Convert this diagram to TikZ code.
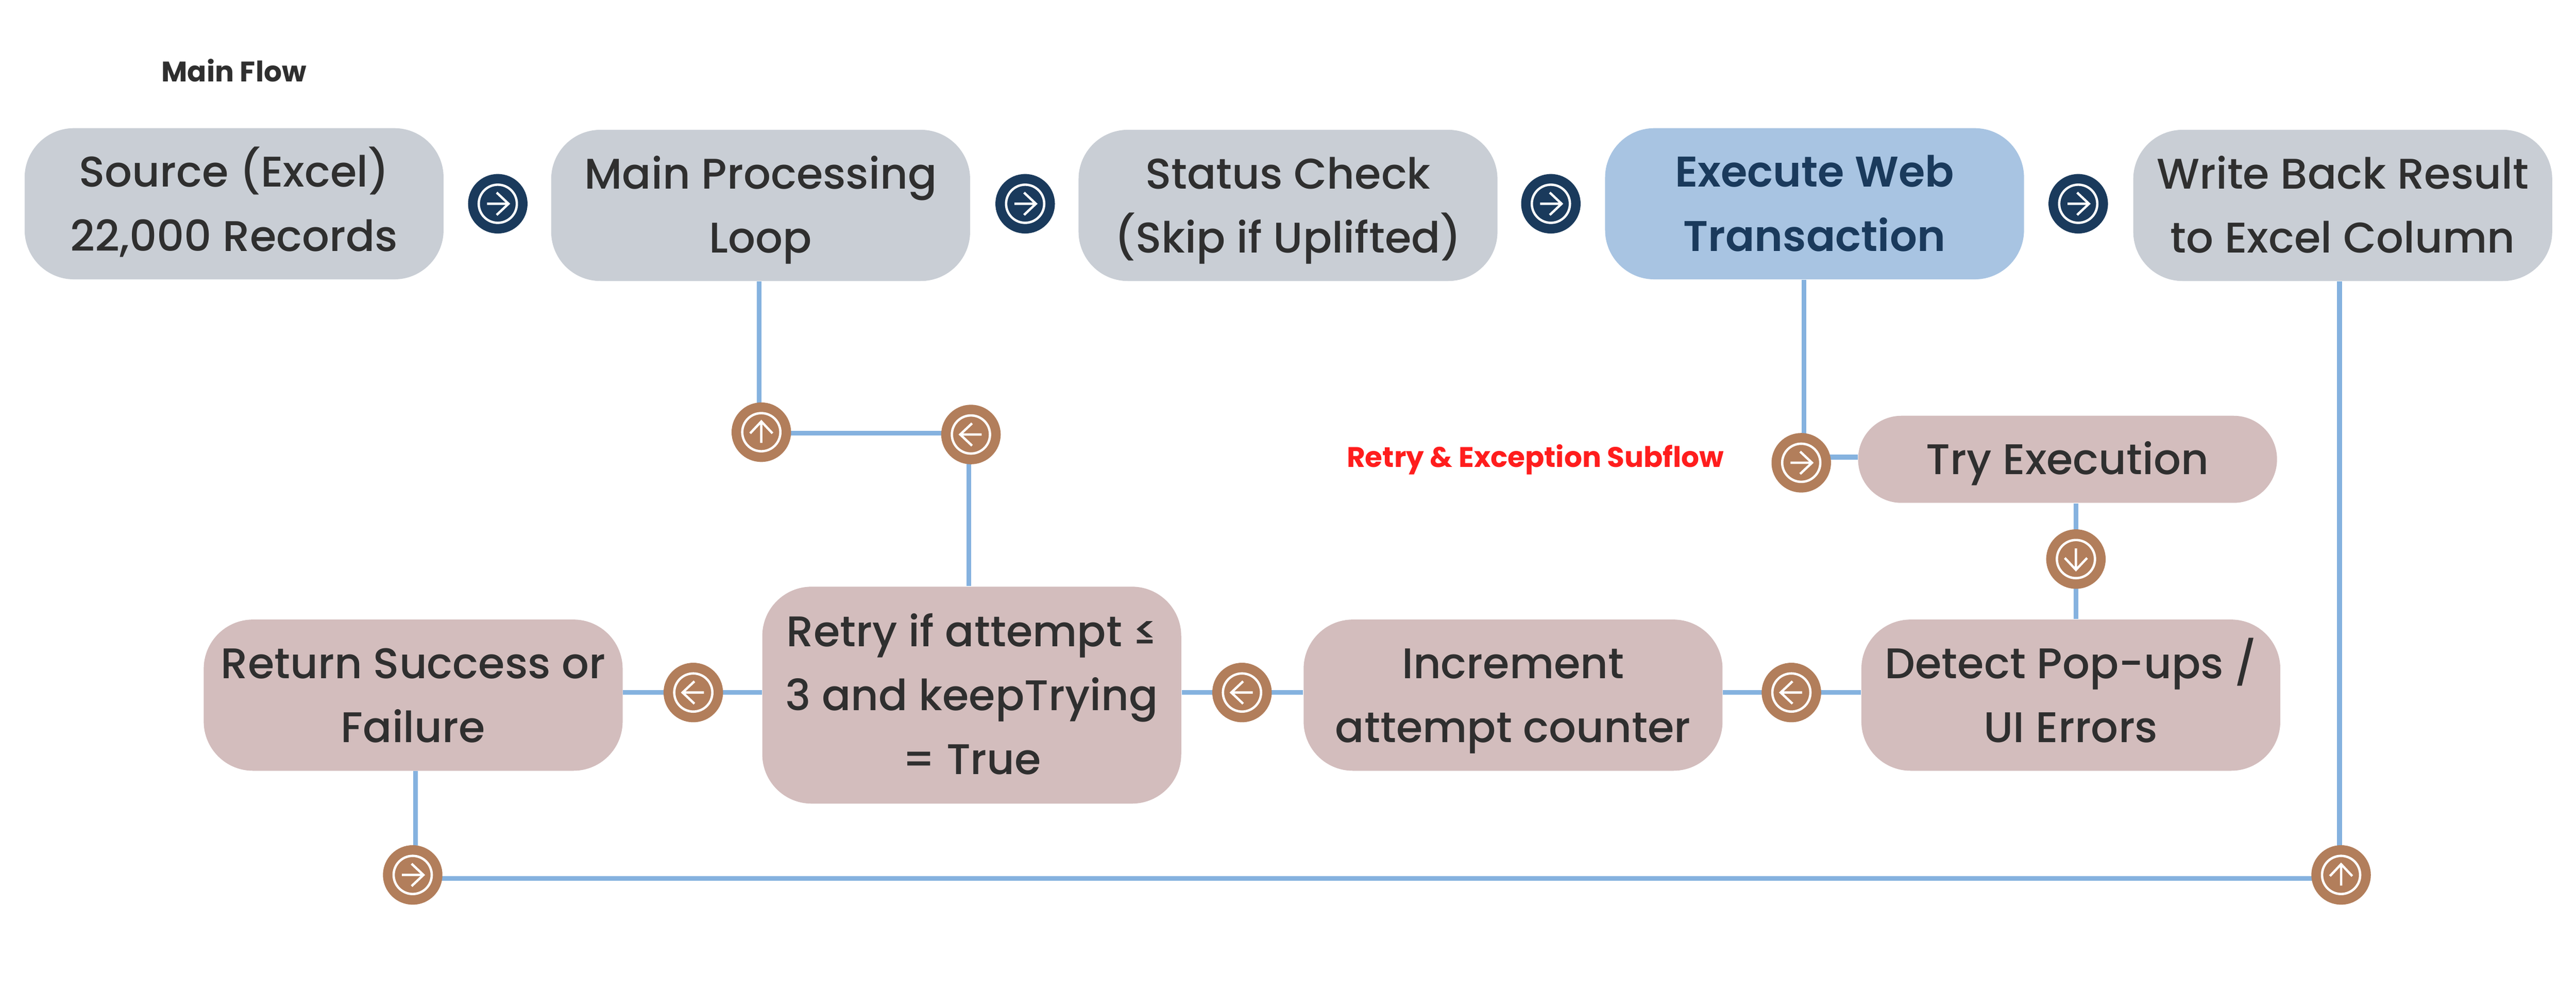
\documentclass[tikz,border=0pt]{standalone}
\usepackage{fontspec}
\usepackage{xcolor}
\usetikzlibrary{backgrounds}
\setmainfont{Poppins Medium}[BoldFont={Poppins SemiBold}]
\newfontfamily\captionfont{Poppins Bold}
\definecolor{boxgrey}{HTML}{C9CED5}
\definecolor{boxblue}{HTML}{A8C4E2}
\definecolor{boxrose}{HTML}{D3BDBD}
\definecolor{dotnavy}{HTML}{1A3A5C}
\definecolor{dotbrown}{HTML}{B27E5B}
\definecolor{wireblue}{HTML}{85B2DF}
\definecolor{inkgrey}{HTML}{2F2F2F}
\definecolor{inkred}{HTML}{FF1D1D}
\newcommand{\st}{\rule[-6.8pt]{0pt}{26.8pt}}
\tikzset{
	flowbox/.style={shape=rectangle, rounded corners=0.75cm, minimum width=6.375cm, minimum height=2.3cm, inner sep=0pt, align=center, text=inkgrey, font=\fontsize{18.55}{27.7}\selectfont},
	wire/.style={draw=wireblue, line width=0.0725cm},
	caption/.style={font=\fontsize{12.25}{14}\selectfont\captionfont},
	arrowdot/.style={shape=circle, minimum size=0.905cm, inner sep=0pt},
	arrowmark/.style={draw=white, line width=0.036cm}
}

\begin{document}
\begin{tikzpicture}
	\useasboundingbox (0, 0) rectangle (39.2, 15.045);
	% Titles:
	\node[caption, text=inkgrey](T1) at (3.56, 13.97){Main Flow};
	\node[caption, text=inkred](T2) at (23.365, 8.05){Retry \& Exception Subflow};
	% Main flow boxes:
	\node[flowbox, fill=boxgrey](SRC) at (3.5625, 11.945){\st Source (Excel)\\22,000 Records\st};
	\node[flowbox, fill=boxgrey](LOOP) at (11.575, 11.92){\st Main Processing\\Loop\st};
	\node[flowbox, fill=boxgrey](CHK) at (19.6, 11.92){\st Status Check\\(Skip if Uplifted)\st};
	\node[flowbox, fill=boxblue, text=dotnavy, font=\fontsize{18.55}{27.7}\selectfont\bfseries](EXE) at (27.6125, 11.945){\st Execute Web\\Transaction\st};
	\node[flowbox, fill=boxgrey](WBR) at (35.65, 11.92){\st Write Back Result\\to Excel Column\st};
	% Subflow boxes:
	\node[flowbox, fill=boxrose, minimum height=1.325cm, rounded corners=0.66cm](TRY) at (31.4625, 8.0575){\st Try Execution\st};
	\node[flowbox, fill=boxrose](DET) at (31.5125, 4.47){\st Detect Pop-ups /\\UI Errors\st};
	\node[flowbox, fill=boxrose](INC) at (23.025, 4.47){\st Increment\\attempt counter\st};
	\node[flowbox, fill=boxrose, minimum height=3.3cm](RTY) at (14.7875, 4.47){\st Retry if attempt ≤\\3 and keepTrying\\= True\st};
	\node[flowbox, fill=boxrose](RET) at (6.2875, 4.47){\st Return Success or\\Failure\st};
	% Arrow dots:
	\node[arrowdot, fill=dotnavy](D1) at (7.575, 11.945){};
	\node[arrowdot, fill=dotnavy](D2) at (15.6, 11.945){};
	\node[arrowdot, fill=dotnavy](D3) at (23.6, 11.945){};
	\node[arrowdot, fill=dotnavy](D4) at (31.625, 11.945){};
	\node[arrowdot, fill=dotbrown](D5) at (11.585, 8.47){};
	\node[arrowdot, fill=dotbrown](D6) at (14.775, 8.435){};
	\node[arrowdot, fill=dotbrown](D7) at (27.41, 8.005){};
	\node[arrowdot, fill=dotbrown](D8) at (31.59, 6.54){};
	\node[arrowdot, fill=dotbrown](D9) at (27.26, 4.51){};
	\node[arrowdot, fill=dotbrown](D10) at (18.9, 4.51){};
	\node[arrowdot, fill=dotbrown](D11) at (10.55, 4.51){};
	\node[arrowdot, fill=dotbrown](D12) at (6.28, 1.735){};
	\node[arrowdot, fill=dotbrown](D13) at (35.625, 1.735){};
	\foreach \dotname/\dotangle in {D1/0, D2/0, D3/0, D4/0, D5/90, D6/180, D7/0, D8/-90, D9/180, D10/180, D11/180, D12/0, D13/90}{
		\draw[arrowmark, shift={(\dotname.center)}, rotate=\dotangle] (0, 0) circle (0.29) (-0.163, 0) -- (0.163, 0) (-0.017, 0.17) -- (0.163, 0) -- (-0.017, -0.17);
	}
	% Wires:
	\coordinate (J1) at (11.55, 8.455);
	\coordinate (J2) at (14.74, 8.455);
	\coordinate (J3) at (27.45, 8.09);
	\coordinate (J4) at (6.32, 1.6825);
	\coordinate (J5) at (35.6, 1.6825);
	\begin{pgfonlayer}{background}
		\draw[wire] (LOOP.south -| J1) -- (J1) -- (J2) -- (J2 |- RTY.north);
		\draw[wire] (EXE.south -| J3) -- (J3) -- (TRY.west |- J3);
		\draw[wire] (D8 |- TRY.south) -- (D8 |- DET.north);
		\draw[wire] (DET.west |- D9) -- (INC.east |- D9);
		\draw[wire] (INC.west |- D10) -- (RTY.east |- D10);
		\draw[wire] (RTY.west |- D11) -- (RET.east |- D11);
		\draw[wire] (RET.south -| J4) -- (J4) -- (J5) -- (WBR.south -| J5);
	\end{pgfonlayer}
\end{tikzpicture}
\end{document}
